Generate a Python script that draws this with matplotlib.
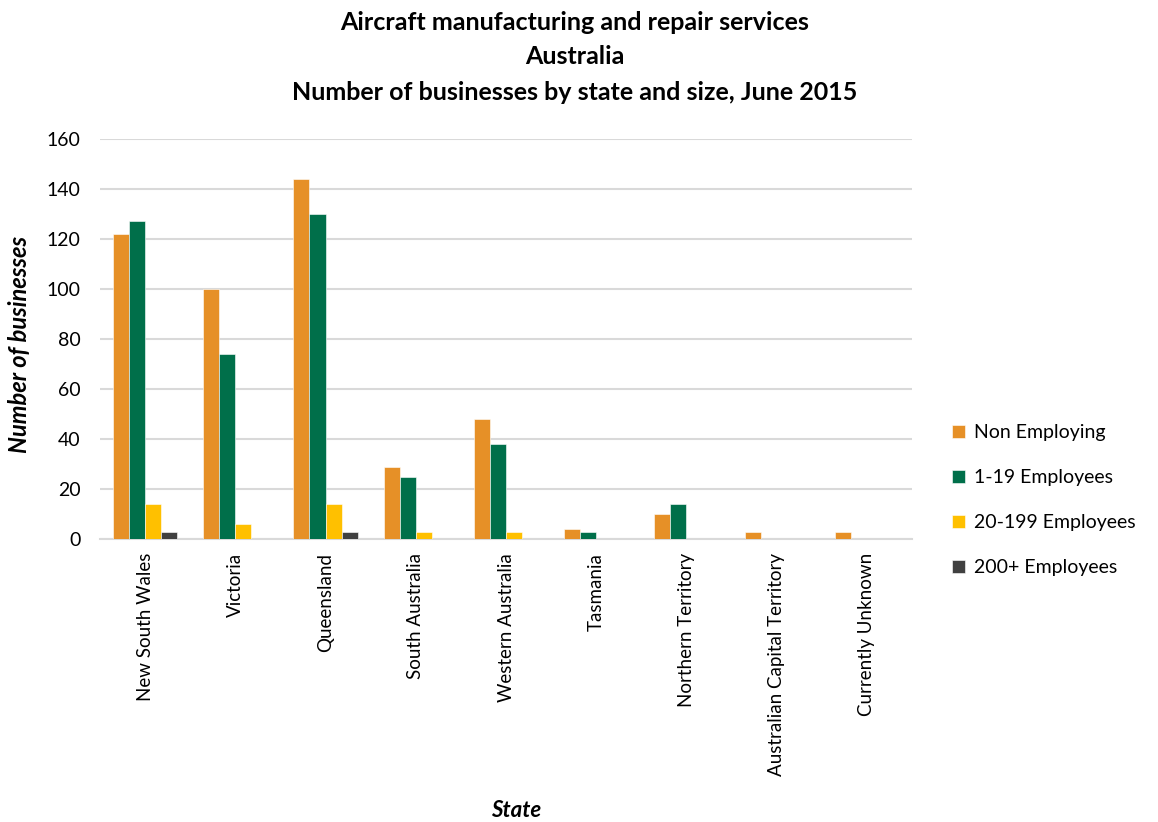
import matplotlib.pyplot as plt
import numpy as np

plt.rcParams['font.family'] = ['Lato', 'DejaVu Sans']

states = ['New South Wales', 'Victoria', 'Queensland', 'South Australia',
          'Western Australia', 'Tasmania', 'Northern Territory',
          'Australian Capital Territory', 'Currently Unknown']
non_employing = [122, 100, 144, 29, 48, 4, 10, 3, 3]
emp_1_19 = [127, 74, 130, 25, 38, 3, 14, 0, 0]
emp_20_199 = [14, 6, 14, 3, 3, 0, 0, 0, 0]
emp_200_plus = [3, 0, 3, 0, 0, 0, 0, 0, 0]

series = [
    ('Non Employing', non_employing, '#E69027'),
    ('1-19 Employees', emp_1_19, '#006F4A'),
    ('20-199 Employees', emp_20_199, '#FFC000'),
    ('200+ Employees', emp_200_plus, '#404040'),
]

title_lines = ['Aircraft manufacturing and repair services',
               'Australia',
               'Number of businesses by state and size, June 2015']

fig = plt.figure(figsize=(11.58, 8.22), dpi=100)
ax = fig.add_axes([100 / 1158, 1 - 539 / 822, 812 / 1158, 400 / 822])

x = np.arange(len(states))
w = 0.178
for i, (name, vals, col) in enumerate(series):
    ax.bar(x + (i - 1.5) * w, vals, width=w, color=col, label=name,
           edgecolor='white', linewidth=0.4, zorder=3)

ax.set_xlim(-0.5, len(states) - 0.5)
ax.set_ylim(0, 160)
ax.set_yticks(range(0, 161, 20))
ax.set_xticks(x)
ax.set_xticklabels(states, rotation=90, fontsize=13.5)
ax.tick_params(axis='y', labelsize=14, length=0, pad=14)
ax.tick_params(axis='x', length=0, pad=10)
ax.grid(axis='y', color='#d9d9d9', linewidth=1.5, zorder=0)
for s in ['top', 'right', 'left']:
    ax.spines[s].set_visible(False)
ax.spines['bottom'].set_color('#d9d9d9')
ax.spines['bottom'].set_linewidth(1.5)

fig.text(20 / 1158, 1 - 344 / 822, 'Number of businesses', fontsize=17,
         fontweight='bold', fontstyle='italic', rotation=90,
         ha='center', va='center')
fig.text(516 / 1158, 1 - 810 / 822, 'State', fontsize=16, fontweight='bold',
         fontstyle='italic', ha='center', va='center')

for line, ypx in zip(title_lines, [22, 57, 92]):
    fig.text(575 / 1158, 1 - ypx / 822, line, fontsize=18,
             fontweight='bold', ha='center', va='center')

ax.legend(loc='center left', bbox_to_anchor=(1.028, 0.097), frameon=False,
          fontsize=14, handlelength=0.65, handleheight=0.65,
          labelspacing=1.45, handletextpad=0.45)

fig.savefig('out.png', dpi=100)
